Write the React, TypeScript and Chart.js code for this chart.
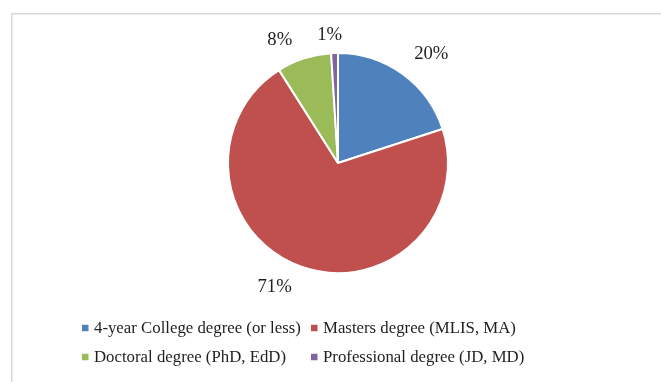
import React, { useEffect, useRef } from "react";
import { Chart, registerables } from "chart.js";

Chart.register(...registerables);

// Highest degree held — share of respondents
const categories = [
  "4-year College degree (or less)",
  "Masters degree (MLIS, MA)",
  "Doctoral degree (PhD, EdD)",
  "Professional degree (JD, MD)",
];
const shares = [20, 71, 8, 1];
const sliceColors = ["#4F81BD", "#C0504D", "#9BBB59", "#8064A2"];
const valueLabels = ["20%", "71%", "8%", "1%"];

// small per-label nudges (px) from the radial anchor outside each slice
const labelNudge: [number, number][] = [
  [11, 4],
  [-16, -8],
  [-15, 10],
  [-4, 12],
];

const SERIF = '"Liberation Serif", "Times New Roman", serif';
const TEXT_COLOR = "#1f1f1f";

const framePlugin = {
  id: "frame",
  beforeDraw(chart: any) {
    const { ctx, width, height } = chart;
    ctx.save();
    ctx.fillStyle = "#ffffff";
    ctx.fillRect(0, 0, width, height);
    ctx.strokeStyle = "#d9d9d9";
    ctx.lineWidth = 1.5;
    ctx.strokeRect(11.75, 13.75, width + 20, height + 20);
    ctx.restore();
  },
};

const labelPlugin = {
  id: "sliceLabels",
  afterDraw(chart: any) {
    const { ctx } = chart;
    const meta = chart.getDatasetMeta(0);
    ctx.save();
    ctx.font = `18.7px ${SERIF}`;
    ctx.fillStyle = TEXT_COLOR;
    ctx.textAlign = "center";
    ctx.textBaseline = "middle";
    meta.data.forEach((arc: any, i: number) => {
      const { x, y, startAngle, endAngle, outerRadius } = arc.getProps(
        ["x", "y", "startAngle", "endAngle", "outerRadius"],
        true
      );
      const mid = (startAngle + endAngle) / 2;
      const r = outerRadius + 30;
      const [dx, dy] = labelNudge[i];
      ctx.fillText(valueLabels[i], x + Math.cos(mid) * r + dx, y + Math.sin(mid) * r + dy);
    });
    ctx.restore();
  },
};

const legendPlugin = {
  id: "gridLegend",
  afterDraw(chart: any) {
    const { ctx } = chart;
    const colX = [82, 311];
    const rowY = [328, 357];
    const box = 6.5;
    ctx.save();
    ctx.font = `16.8px ${SERIF}`;
    ctx.textAlign = "left";
    ctx.textBaseline = "middle";
    categories.forEach((name, i) => {
      const cx = colX[i % 2];
      const cy = rowY[Math.floor(i / 2)];
      ctx.fillStyle = sliceColors[i];
      ctx.fillRect(cx, cy - box / 2, box, box);
      ctx.fillStyle = TEXT_COLOR;
      ctx.fillText(name, cx + 12, cy + 1);
    });
    ctx.restore();
  },
};

export default function App() {
  const canvasRef = useRef<HTMLCanvasElement | null>(null);

  useEffect(() => {
    if (!canvasRef.current) return;
    const chart = new Chart(canvasRef.current, {
      type: "pie",
      data: {
        labels: categories,
        datasets: [
          {
            data: shares,
            backgroundColor: sliceColors,
            borderColor: "#ffffff",
            borderWidth: 2,
          },
        ],
      },
      options: {
        responsive: false,
        animation: false,
        layout: { padding: { top: 52, bottom: 108, left: 227, right: 212 } },
        plugins: {
          legend: { display: false },
          tooltip: { enabled: false },
          title: { display: false },
        },
      },
      plugins: [framePlugin, labelPlugin, legendPlugin],
    });
    return () => chart.destroy();
  }, []);

  return (
    <div style={{ position: "absolute", left: 0, top: 0, width: 661, height: 382 }}>
      <canvas ref={canvasRef} width={661} height={382} />
    </div>
  );
}
